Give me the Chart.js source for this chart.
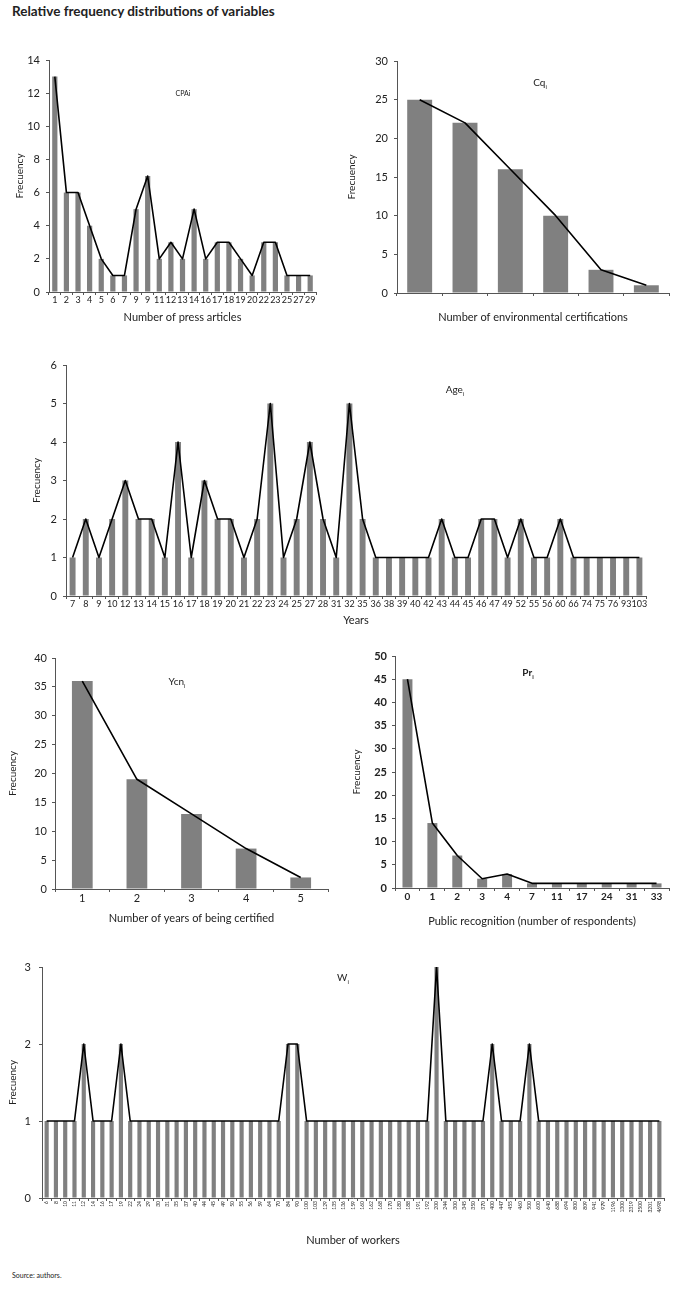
<!DOCTYPE html>
<html>
<head>
<meta charset="utf-8">
<script src="https://cdn.jsdelivr.net/npm/chart.js@4/dist/chart.umd.min.js"></script>
<style>
body { margin: 0; background: #fff; width: 685px; height: 1296px; position: relative; font-family: Lato, sans-serif; color: #222; }
canvas { position: absolute; }
.lbl { position: absolute; transform: translate(-50%, -50%); white-space: nowrap; font-size: 10px; }
.lbl sub { font-size: 6px; }
#title { position: absolute; left: 12px; top: 3px; font-weight: bold; font-size: 13.5px; }
#source { position: absolute; left: 12px; top: 1271px; font-size: 7px; }
</style>
</head>
<body>
<div id="title">Relative frequency distributions of variables</div>

<canvas id="cpa"></canvas>
<canvas id="cq"></canvas>
<canvas id="age"></canvas>
<canvas id="ycn"></canvas>
<canvas id="pr"></canvas>
<canvas id="w"></canvas>

<span class="lbl" style="left:183px;top:93px;font-size:7px">CPAi</span>
<span class="lbl" style="left:540px;top:83px">Cq<sub>i</sub></span>
<span class="lbl" style="left:455px;top:390px">Age<sub>i</sub></span>
<span class="lbl" style="left:177px;top:682px">Ycn<sub>i</sub></span>
<span class="lbl" style="left:528px;top:673px;font-weight:bold">Pr<sub>i</sub></span>
<span class="lbl" style="left:343px;top:978px">W<sub>i</sub></span>

<div id="source">Source: authors.</div>

<script>
// data
let cpaLabels = ['1','2','3','4','5','6','7','9','9','11','12','13','14','16','17','18','19','20','22','23','25','27','29'];
let cpaValues = [13,6,6,4,2,1,1,5,7,2,3,2,5,2,3,3,2,1,3,3,1,1,1];

let cqLabels = ['','','','','',''];
let cqValues = [25,22,16,10,3,1];

let ageLabels = ['7','8','9','10','12','13','14','15','16','17','18','19','20','21','22','23','24','25','27','28','31','32','35','36','38','39','40','42','43','44','45','46','47','49','52','55','56','60','66','74','75','76','93','103'];
let ageValues = [1,2,1,2,3,2,2,1,4,1,3,2,2,1,2,5,1,2,4,2,1,5,2,1,1,1,1,1,2,1,1,2,2,1,2,1,1,2,1,1,1,1,1,1];

let ycnLabels = ['1','2','3','4','5'];
let ycnValues = [36,19,13,7,2];

let prLabels = ['0','1','2','3','4','7','11','17','24','31','33'];
let prValues = [45,14,7,2,3,1,1,1,1,1,1];

let wLabels = ['6','8','10','11','12','14','16','17','19','22','24','29','30','31','35','37','40','44','45','49','50','55','56','59','64','70','84','90','100','103','129','135','136','159','160','162','168','170','180','188','191','192','200','244','300','345','350','370','400','447','455','460','500','600','640','688','694','800','809','941','979','1196','1300','2319','2500','3201','4698'];
let wValues = [1,1,1,1,2,1,1,1,2,1,1,1,1,1,1,1,1,1,1,1,1,1,1,1,1,1,2,2,1,1,1,1,1,1,1,1,1,1,1,1,1,1,3,1,1,1,1,1,2,1,1,1,2,1,1,1,1,1,1,1,1,1,1,1,1,1,1];

let axisColor = '#555';

function makeChart(id, labels, values, o) {
    let cv = document.getElementById(id);
    cv.style.left = o.left + 'px';
    cv.style.top = o.top + 'px';
    cv.width = o.w;
    cv.height = o.h;

    let weight = o.bold ? 'bold' : 'normal';

    return new Chart(cv, {
        type: 'bar',
        data: {
            labels: labels,
            datasets: [{
                type: 'line',
                data: values,
                borderColor: '#000',
                borderWidth: 1.6,
                borderJoinStyle: 'round',
                pointRadius: 0,
                tension: 0,
                order: 1
            }, {
                data: values,
                backgroundColor: '#808080',
                barPercentage: o.bar,
                categoryPercentage: 1,
                order: 2
            }]
        },
        options: {
            responsive: false,
            animation: false,
            layout: {
                padding: { top: o.plotT - o.top, right: o.left + o.w - o.plotR, left: 0, bottom: 0 }
            },
            plugins: { legend: { display: false }, tooltip: { enabled: false } },
            scales: {
                x: {
                    afterFit: s => { s.height = o.top + o.h - o.plotB; },
                    border: { color: axisColor },
                    grid: { drawOnChartArea: false, tickLength: 3, color: axisColor },
                    ticks: {
                        display: o.xTicks !== false,
                        autoSkip: false,
                        maxRotation: o.rot || 0,
                        minRotation: o.rot || 0,
                        padding: 0,
                        color: '#222',
                        font: { family: 'Lato', size: o.xFont || 9, weight: weight }
                    },
                    title: {
                        display: true,
                        text: o.xTitle,
                        color: '#222',
                        padding: o.xPad,
                        font: { family: 'Lato', size: 11 }
                    }
                },
                y: {
                    min: 0,
                    max: o.yMax,
                    afterFit: s => { s.width = o.plotL - o.left; },
                    border: { color: axisColor },
                    grid: { drawOnChartArea: false, tickLength: 3, color: axisColor },
                    ticks: {
                        stepSize: o.step,
                        padding: o.yTickPad,
                        color: '#222',
                        font: { family: 'Lato', size: 11, weight: weight }
                    },
                    title: {
                        display: true,
                        text: 'Frecuency',
                        color: '#222',
                        padding: o.yPad,
                        font: { family: 'Lato', size: 10 }
                    }
                }
            }
        }
    });
}

makeChart('cpa', cpaLabels, cpaValues, {
    left: 0, top: 40, w: 335, h: 290,
    plotL: 49, plotT: 60, plotR: 316, plotB: 292,
    yMax: 14, step: 2, bar: 0.45, xTitle: 'Number of press articles',
    xPad: 6, yPad: 14, yTickPad: 6
});

makeChart('cq', cqLabels, cqValues, {
    left: 340, top: 40, w: 345, h: 290,
    plotL: 397, plotT: 61, plotR: 669, plotB: 293,
    yMax: 30, step: 5, bar: 0.55, xTitle: 'Number of environmental certifications',
    xTicks: false, xPad: 6, yPad: 6, yTickPad: 6
});

makeChart('age', ageLabels, ageValues, {
    left: 0, top: 345, w: 660, h: 285,
    plotL: 66, plotT: 365, plotR: 646, plotB: 596,
    yMax: 6, step: 1, bar: 0.45, xTitle: 'Years',
    xPad: 3, yPad: 31, yTickPad: 6
});

makeChart('ycn', ycnLabels, ycnValues, {
    left: 0, top: 640, w: 335, h: 290,
    plotL: 55, plotT: 658, plotR: 328, plotB: 889,
    yMax: 40, step: 5, bar: 0.38, xTitle: 'Number of years of being certified',
    xFont: 11, xPad: 5, yPad: 7, yTickPad: 5
});

makeChart('pr', prLabels, prValues, {
    left: 340, top: 640, w: 345, h: 290,
    plotL: 395, plotT: 656, plotR: 669, plotB: 888,
    yMax: 50, step: 5, bar: 0.4, xTitle: 'Public recognition (number of respondents)',
    xFont: 10, bold: true, xPad: 2, yPad: 11, yTickPad: 5
});

makeChart('w', wLabels, wValues, {
    left: 0, top: 950, w: 685, h: 300,
    plotL: 42, plotT: 967, plotR: 664, plotB: 1198,
    yMax: 3, step: 1, bar: 0.45, xTitle: 'Number of workers',
    xFont: 5, rot: 90, xPad: 3, yPad: 7, yTickPad: 8
});
</script>
</body>
</html>
